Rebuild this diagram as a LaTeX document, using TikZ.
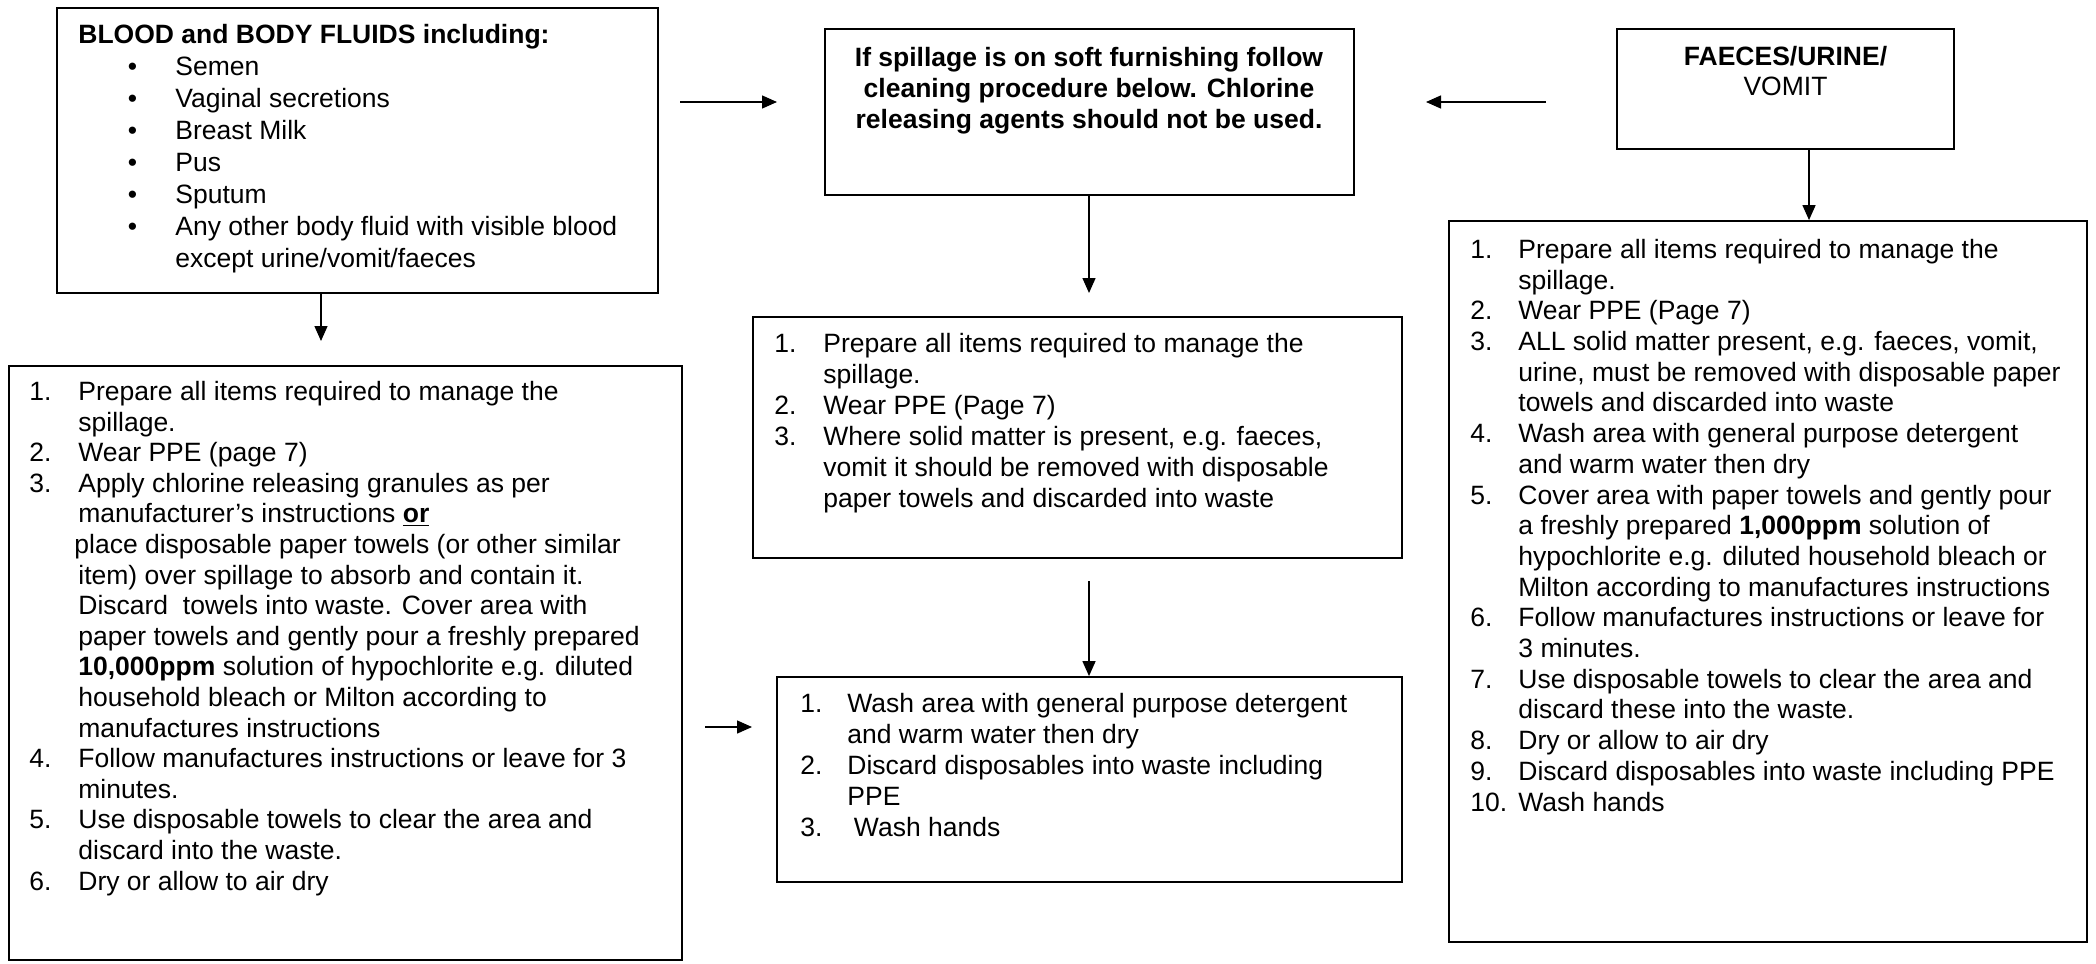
\documentclass[tikz,border=0pt]{standalone}
\usepackage{fontspec}
\setmainfont{Liberation Sans}
\usetikzlibrary{arrows.meta}
\newcommand\numbox[2][24.5pt]{\makebox[#1][l]{#2}}
\newcommand\hangsp[1][24.5pt]{\hspace*{#1}}
\newcommand\fst{\rule{0pt}{10.5pt}}
\begin{document}
\begin{tikzpicture}[x=0.5pt,y=-0.5pt,
  box/.style={draw, line width=0.9pt, inner sep=0pt},
  arr/.style={line width=0.7pt, -{Triangle[width=6.5pt,length=7.5pt]}},
  txt/.style={inner sep=0pt, align=left, anchor=north west},
  ctxt/.style={inner sep=0pt, align=center, anchor=north},
  fa/.style={font=\fontsize{13.25pt}{16pt}\selectfont},
  fd/.style={font=\fontsize{13.25pt}{15.3pt}\selectfont},
  fe/.style={font=\fontsize{13.25pt}{15.5pt}\selectfont},
  ff/.style={font=\fontsize{13.25pt}{15.35pt}\selectfont},
  fc/.style={font=\fontsize{13.25pt}{15pt}\selectfont},
]
\useasboundingbox (0,0) rectangle (2096,963);

% boxes
\node[box, minimum width=300.5pt, minimum height=142.5pt] (A) at (357.5,150.5) {};
\node[box, minimum width=264.5pt, minimum height=83pt] (B) at (1089.5,112) {};
\node[box, minimum width=168.5pt, minimum height=60pt] (C) at (1785.5,89) {};
\node[box, minimum width=336.5pt, minimum height=297pt] (D) at (345.5,663) {};
\node[box, minimum width=324.5pt, minimum height=120.5pt] (E) at (1077.5,437.5) {};
\node[box, minimum width=312.5pt, minimum height=102.5pt] (G) at (1089.5,779.5) {};
\node[box, minimum width=319pt, minimum height=360.5pt] (F) at (1768,581.5) {};

% texts
\node[txt, fa] (At) at (78,22) {\fst\textbf{BLOOD and BODY FLUIDS including:}\\
\hangsp[24.75pt]\numbox[23.75pt]{•}Semen\\
\hangsp[24.75pt]\numbox[23.75pt]{•}Vaginal secretions\\
\hangsp[24.75pt]\numbox[23.75pt]{•}Breast Milk\\
\hangsp[24.75pt]\numbox[23.75pt]{•}Pus\\
\hangsp[24.75pt]\numbox[23.75pt]{•}Sputum\\
\hangsp[24.75pt]\numbox[23.75pt]{•}Any other body fluid with visible blood\\
\hangsp[48.5pt]except urine/vomit/faeces};

\node[txt, fd] (Dt) at (29,379) {\fst\numbox{1.}Prepare all items required to manage the\\
\hangsp spillage.\\
\numbox{2.}Wear PPE (page 7)\\
\numbox{3.}Apply chlorine releasing granules as per\\
\hangsp manufacturer’s instructions \textbf{\underline{or}}\\
\hangsp[22.5pt]place disposable paper towels (or other similar\\
\hangsp item) over spillage to absorb and contain it.\\
\hangsp Discard\ \ towels into waste. Cover area with\\
\hangsp paper towels and gently pour a freshly prepared\\
\hangsp\textbf{10,000ppm} solution of hypochlorite e.g. diluted\\
\hangsp household bleach or Milton according to\\
\hangsp manufactures instructions\\
\numbox{4.}Follow manufactures instructions or leave for 3\\
\hangsp minutes.\\
\numbox{5.}Use disposable towels to clear the area and\\
\hangsp discard into the waste.\\
\numbox{6.}Dry or allow to air dry};

\node[ctxt, fe] (Bt) at (1089,45) {\fst\textbf{If spillage is on soft furnishing follow}\\
\textbf{cleaning procedure below. Chlorine}\\
\textbf{releasing agents should not be used.}};

\node[ctxt, fc] (Ct) at (1785.5,44) {\fst\textbf{FAECES/URINE/}\\VOMIT};

\node[txt, fe] (Et) at (774,331) {\fst\numbox{1.}Prepare all items required to manage the\\
\hangsp spillage.\\
\numbox{2.}Wear PPE (Page 7)\\
\numbox{3.}Where solid matter is present, e.g. faeces,\\
\hangsp vomit it should be removed with disposable\\
\hangsp paper towels and discarded into waste};

\node[txt, fe] (Gt) at (800,691) {\fst\numbox[23.5pt]{1.}Wash area with general purpose detergent\\
\hangsp[23.5pt]and warm water then dry\\
\numbox[23.5pt]{2.}Discard disposables into waste including\\
\hangsp[23.5pt]PPE\\
\numbox[23.5pt]{3.}\hspace{3.3pt}Wash hands};

\node[txt, ff] (Ft) at (1470,237) {\fst\numbox[24pt]{1.}Prepare all items required to manage the\\
\hangsp[24pt]spillage.\\
\numbox[24pt]{2.}Wear PPE (Page 7)\\
\numbox[24pt]{3.}ALL solid matter present, e.g. faeces, vomit,\\
\hangsp[24pt]urine, must be removed with disposable paper\\
\hangsp[24pt]towels and discarded into waste\\
\numbox[24pt]{4.}Wash area with general purpose detergent\\
\hangsp[24pt]and warm water then dry\\
\numbox[24pt]{5.}Cover area with paper towels and gently pour\\
\hangsp[24pt]a freshly prepared \textbf{1,000ppm} solution of\\
\hangsp[24pt]hypochlorite e.g. diluted household bleach or\\
\hangsp[24pt]Milton according to manufactures instructions\\
\numbox[24pt]{6.}Follow manufactures instructions or leave for\\
\hangsp[24pt]3 minutes.\\
\numbox[24pt]{7.}Use disposable towels to clear the area and\\
\hangsp[24pt]discard these into the waste.\\
\numbox[24pt]{8.}Dry or allow to air dry\\
\numbox[24pt]{9.}Discard disposables into waste including PPE\\
\numbox[24pt]{10.}Wash hands};

% arrow end points
\coordinate (ad) at (321,341);
\coordinate (ab0) at (680,102);
\coordinate (ab1) at (777,102);
\coordinate (cb0) at (1546,102);
\coordinate (cb1) at (1426,102);
\coordinate (be) at (1089,293);
\coordinate (cf) at (1809,0);
\coordinate (eg) at (1089,581);
\coordinate (dg0) at (705,727);
\coordinate (dg1) at (752,727);

% connectors
\draw[arr] (ad |- A.south) -- (ad);
\draw[arr] (ab0) -- (ab1);
\draw[arr] (cb0) -- (cb1);
\draw[arr] (be |- B.south) -- (be);
\draw[arr] (cf |- C.south) -- (cf |- F.north);
\draw[arr] (eg) -- (eg |- G.north);
\draw[arr] (dg0) -- (dg1);
\end{tikzpicture}
\end{document}
